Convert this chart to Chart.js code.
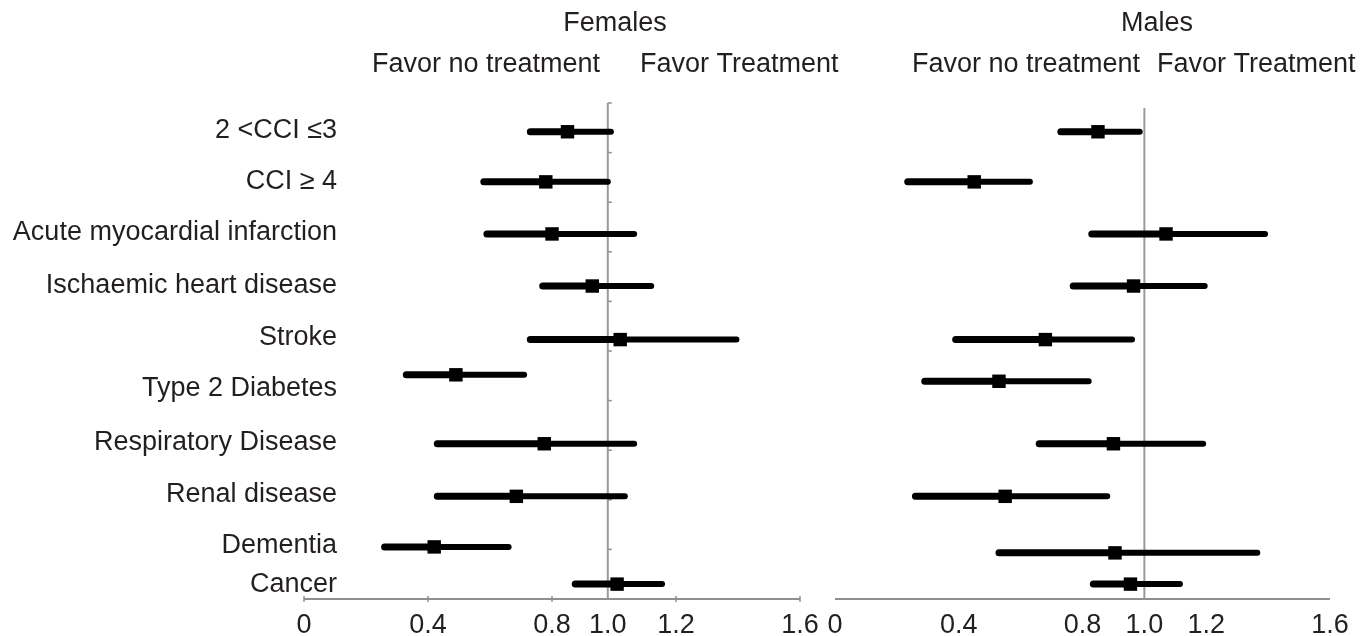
<!DOCTYPE html>
<html>
<head>
<meta charset="utf-8">
<script src="https://cdn.jsdelivr.net/npm/chart.js@4/dist/chart.umd.min.js"></script>
<style>
    html, body { margin: 0; padding: 0; background: #fff; }
    #wrap { position: relative; width: 1372px; height: 636px; overflow: hidden; }
    canvas { position: absolute; top: 0; }
    #females { left: 0; }
    #males { left: 820px; }
</style>
</head>
<body>
<div id="wrap">
    <canvas id="females" width="840" height="636"></canvas>
    <canvas id="males" width="552" height="636"></canvas>
</div>
<script>
// row labels and where they sit on the (hidden) 0..10 y scale
const conditions = ['2 <CCI \u22643', 'CCI \u2265 4', 'Acute myocardial infarction', 'Ischaemic heart disease',
    'Stroke', 'Type 2 Diabetes', 'Respiratory Disease', 'Renal disease', 'Dementia', 'Cancer'];
const labelRows = [9.45, 8.42, 7.39, 6.32, 5.27, 4.24, 3.15, 2.10, 1.07, 0.30];

// females: estimate with lower / upper bounds
const femaleRows = [9.42, 8.41, 7.36, 6.31, 5.23, 4.52, 3.13, 2.07, 1.05, 0.30];
const femaleEst = [0.85, 0.78, 0.80, 0.93, 1.02, 0.49, 0.775, 0.685, 0.42, 1.01];
const femaleLow = [0.73, 0.58, 0.59, 0.77, 0.73, 0.33, 0.43, 0.43, 0.26, 0.875];
const femaleHigh = [0.99, 0.98, 1.065, 1.12, 1.395, 0.71, 1.065, 1.035, 0.66, 1.155];

// males
const maleRows = [9.42, 8.41, 7.36, 6.31, 5.23, 4.39, 3.13, 2.07, 0.93, 0.30];
const maleEst = [0.85, 0.45, 1.07, 0.965, 0.68, 0.53, 0.90, 0.55, 0.905, 0.955];
const maleLow = [0.73, 0.235, 0.83, 0.77, 0.39, 0.29, 0.66, 0.26, 0.53, 0.835];
const maleHigh = [0.985, 0.63, 1.39, 1.195, 0.96, 0.82, 1.19, 0.88, 1.365, 1.115];

const xTicks = [0, 0.4, 0.8, 1.2, 1.6];
const refLines = [0.98, 1.0];   // "1.0" line, females / males

const FONT = '27px "Liberation Sans", Arial, sans-serif';
const TEXT = '#231f20';
const GREY = '#8f8f8f';

function segments(rows, from, to) {
    const pts = [];
    rows.forEach((y, i) => {
        pts.push({ x: from[i], y: y }, { x: to[i], y: y }, { x: to[i], y: null });
    });
    return pts;
}

function makePanel(id, opts) {
    const decor = {
        id: 'decor-' + id,
        beforeDatasetsDraw(chart) {
            const ctx = chart.ctx;
            const xs = chart.scales.x, ys = chart.scales.y;
            const y0 = ys.getPixelForValue(0);
            ctx.save();
            ctx.strokeStyle = GREY;
            ctx.lineWidth = 2;
            ctx.beginPath();
            ctx.moveTo(xs.getPixelForValue(0), y0);
            ctx.lineTo(xs.getPixelForValue(1.6), y0);
            ctx.stroke();
            if (opts.tickMarks) {
                ctx.lineWidth = 1.5;
                xTicks.forEach(v => {
                    const px = xs.getPixelForValue(v);
                    ctx.beginPath();
                    ctx.moveTo(px, y0 - 3);
                    ctx.lineTo(px, y0 + 3);
                    ctx.stroke();
                });
                const rx = xs.getPixelForValue(opts.ref);
                for (let k = 0; k <= 10; k++) {
                    const py = ys.getPixelForValue(k);
                    ctx.beginPath();
                    ctx.moveTo(rx, py);
                    ctx.lineTo(rx + 4, py);
                    ctx.stroke();
                }
            }
            ctx.restore();
        },
        afterDraw(chart) {
            const ctx = chart.ctx;
            const xs = chart.scales.x, ys = chart.scales.y;
            ctx.save();
            ctx.font = FONT;
            ctx.fillStyle = TEXT;
            ctx.textBaseline = 'middle';
            ctx.textAlign = 'center';
            xTicks.forEach(v => {
                ctx.fillText(v === 0 ? '0' : v.toFixed(1), xs.getPixelForValue(v), 626);
            });
            ctx.fillText('1.0', xs.getPixelForValue(opts.ref), 626);

            ctx.textBaseline = 'alphabetic';
            ctx.fillText(opts.title, opts.titleX, 31);
            ctx.textAlign = 'left';
            ctx.fillText('Favor no treatment', opts.noX, 72);
            ctx.fillText('Favor Treatment', opts.yesX, 72);

            if (opts.labels) {
                ctx.textAlign = 'right';
                ctx.textBaseline = 'middle';
                conditions.forEach((c, i) => {
                    ctx.fillText(c, 337, ys.getPixelForValue(labelRows[i]));
                });
            }
            ctx.restore();
        }
    };

    return new Chart(document.getElementById(id), {
        type: 'scatter',
        data: {
            datasets: [
                {
                    data: opts.rows.map((y, i) => ({ x: opts.est[i], y: y })),
                    pointStyle: 'rect',
                    pointRadius: 9.5,
                    pointHoverRadius: 9.5,
                    backgroundColor: '#000',
                    borderColor: '#000',
                    borderWidth: 0,
                    showLine: false
                },
                {
                    data: segments(opts.rows, opts.low, opts.est),
                    showLine: true,
                    spanGaps: false,
                    borderColor: '#000',
                    borderWidth: 7,
                    borderCapStyle: 'round',
                    pointRadius: 0
                },
                {
                    data: segments(opts.rows, opts.est, opts.high),
                    showLine: true,
                    spanGaps: false,
                    borderColor: '#000',
                    borderWidth: 6,
                    borderCapStyle: 'round',
                    pointRadius: 0
                },
                {
                    data: [{ x: opts.ref, y: 0 }, { x: opts.ref, y: opts.refTop }],
                    showLine: true,
                    borderColor: '#9a9a9a',
                    borderWidth: 2,
                    pointRadius: 0
                }
            ]
        },
        options: {
            responsive: false,
            animation: false,
            devicePixelRatio: 1,
            layout: { padding: opts.padding },
            plugins: { legend: { display: false }, tooltip: { enabled: false } },
            scales: {
                x: { type: 'linear', min: 0, max: 1.6, display: false },
                y: { type: 'linear', min: 0, max: 10, display: false }
            }
        },
        plugins: [decor]
    });
}

makePanel('females', {
    rows: femaleRows, est: femaleEst, low: femaleLow, high: femaleHigh,
    ref: refLines[0], refTop: 10, tickMarks: true, labels: true,
    title: 'Females', titleX: 615, noX: 372, yesX: 640,
    padding: { left: 304, right: 40, top: 103, bottom: 37 }
});

makePanel('males', {
    rows: maleRows, est: maleEst, low: maleLow, high: maleHigh,
    ref: refLines[1], refTop: 9.9, tickMarks: false, labels: false,
    title: 'Males', titleX: 1157 - 820, noX: 912 - 820, yesX: 1157 - 820,
    padding: { left: 15, right: 42, top: 103, bottom: 37 }
});
</script>
</body>
</html>
